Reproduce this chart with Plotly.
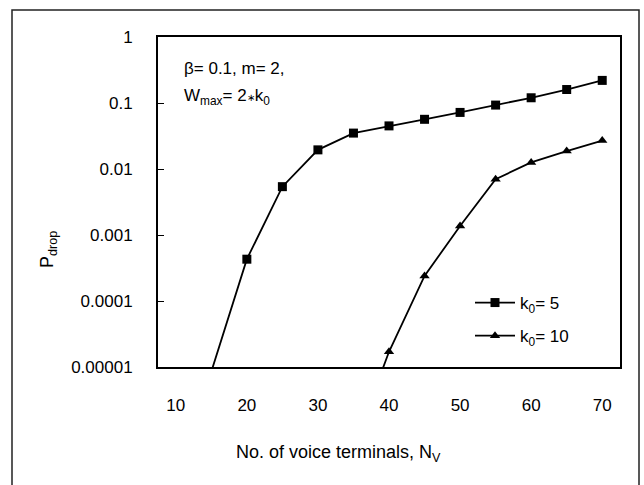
import plotly.graph_objects as go

# Number of voice terminals
n_k5 = [15, 20, 25, 30, 35, 40, 45, 50, 55, 60, 65, 70]
p_k5 = [8.5e-6, 4.3e-4, 5.4e-3, 0.0195, 0.035, 0.045, 0.0566, 0.072, 0.093, 0.12, 0.16, 0.22]

n_k10 = [35, 40, 45, 50, 55, 60, 65, 70]
p_k10 = [6e-7, 1.7e-5, 2.4e-4, 1.37e-3, 7.0e-3, 0.0126, 0.0187, 0.027]

x_ticks = [10, 20, 30, 40, 50, 60, 70]
x_minor = [17.5, 27.5, 37.5, 47.5, 57.5, 67.5]
y_ticks = [1, 0.1, 0.01, 0.001, 0.0001, 0.00001]
y_labels = ["1", "0.1", "0.01", "0.001", "0.0001", "0.00001"]

FONT = "Liberation Sans, Arial, sans-serif"
FS = 17
W, H = 644, 485
L, R, T, B = 158, 24, 37, 118
PW, PH = W - L - R, H - T - B


def px(x):
    return (x - L) / PW


def py(y):
    return (H - B - y) / PH


fig = go.Figure()
fig.add_trace(go.Scatter(
    x=n_k5, y=p_k5, mode="lines+markers", name="k<sub>0</sub>= 5",
    legendgroup="a",
    line=dict(color="black", width=1.8),
    marker=dict(symbol="square", size=9, color="black"),
))
fig.add_trace(go.Scatter(
    x=n_k10, y=p_k10, mode="lines+markers", name="k<sub>0</sub>= 10",
    legendgroup="b",
    line=dict(color="black", width=1.8),
    marker=dict(symbol="triangle-up", size=9, color="black"),
))

fig.update_layout(
    width=W, height=H,
    margin=dict(l=L, r=R, t=T, b=B),
    paper_bgcolor="white", plot_bgcolor="white",
    font=dict(family=FONT, size=FS, color="black"),
    showlegend=True,
    legend=dict(x=px(470), y=py(285), xanchor="left", yanchor="top",
                bgcolor="rgba(0,0,0,0)", font=dict(family=FONT, size=FS, color="black"),
                tracegroupgap=8, itemwidth=40),
    xaxis=dict(range=[7.5, 72.5], tickvals=x_ticks, ticks="",
               tickfont=dict(family=FONT, size=FS, color="black"),
               showgrid=False, zeroline=False,
               showline=True, linecolor="black", linewidth=2, mirror=True,
               ticklabelstandoff=22),
    # top edge carries its own tick marks, offset from the labelled values
    xaxis2=dict(range=[7.5, 72.5], overlaying="x", side="top", anchor="y",
                tickvals=x_minor, ticks="inside", ticklen=6, tickwidth=1,
                tickcolor="black", showticklabels=False, showgrid=False,
                zeroline=False, showline=False),
    yaxis=dict(type="log", range=[-5, 0], tickvals=y_ticks, ticktext=y_labels,
               tickfont=dict(family=FONT, size=FS, color="black"),
               ticks="inside", ticklen=6, tickwidth=1, tickcolor="black",
               showgrid=False, zeroline=False,
               showline=True, linecolor="black", linewidth=2, mirror=True,
               ticklabelstandoff=20),
)

# figure frame
fig.add_shape(type="rect", xref="paper", yref="paper",
              x0=px(12), x1=px(639), y0=py(492), y1=py(10),
              line=dict(color="#222", width=1.5), fillcolor="rgba(0,0,0,0)")

fig.add_annotation(xref="paper", yref="paper", x=px(338), y=py(453),
                   text="No. of voice terminals, N<sub>V</sub>", showarrow=False,
                   xanchor="center", yanchor="middle",
                   font=dict(family=FONT, size=18, color="black"))
fig.add_annotation(xref="paper", yref="paper", x=px(48), y=py(250),
                   text="P<sub>drop</sub>", showarrow=False, textangle=-90,
                   xanchor="center", yanchor="middle",
                   font=dict(family=FONT, size=18, color="black"))
fig.add_annotation(xref="paper", yref="paper", x=px(182), y=py(68),
                   text="β= 0.1, m= 2,", showarrow=False,
                   xanchor="left", yanchor="middle",
                   font=dict(family=FONT, size=FS, color="black"))
fig.add_annotation(xref="paper", yref="paper", x=px(182), y=py(97),
                   text="W<sub>max</sub>= 2<span style='font-size:10px'>∗</span>k<sub>0</sub>",
                   showarrow=False, xanchor="left", yanchor="middle",
                   font=dict(family=FONT, size=FS, color="black"))

fig.write_html("out.html")
